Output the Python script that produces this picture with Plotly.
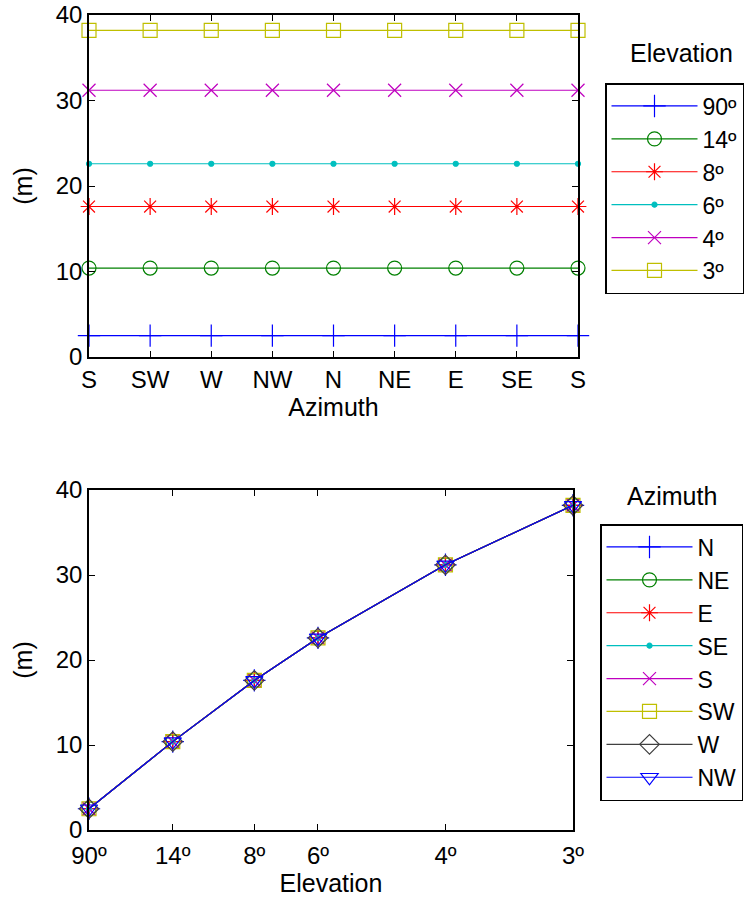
import math
import plotly.graph_objects as go

# Azimuth sweep (top panel) and elevation angles (bottom panel)
azimuth_labels = ["S", "SW", "W", "NW", "N", "NE", "E", "SE", "S"]
elevation_deg = [90, 14, 8, 6, 4, 3]
elevation_labels = ["90º", "14º", "8º", "6º", "4º", "3º"]
# Range (m) for each elevation angle, identical at every azimuth
range_m = [2.5, 10.4, 17.6, 22.6, 31.2, 38.2]
legend_azimuths = ["N", "NE", "E", "SE", "S", "SW", "W", "NW"]

# MATLAB-style line colours and markers
elev_colors = ["#0000ff", "#008000", "#ff0000", "#00bfbf", "#bf00bf", "#bfbf00"]
elev_symbols = ["cross-thin-open", "circle-open", "asterisk-open", "circle",
                "x-thin-open", "square-open"]
elev_sizes = [16, 14, 14, 5, 13, 14]
az_colors = ["#0000ff", "#008000", "#ff0000", "#00bfbf", "#bf00bf", "#bfbf00",
             "#404040", "#0000ff"]
az_symbols = ["cross-thin-open", "circle-open", "asterisk-open", "circle",
              "x-thin-open", "square-open", "diamond-open", "triangle-down-open"]
az_sizes = [16, 14, 14, 5, 13, 14, 15, 15]

FONT = "Liberation Sans, Arial, sans-serif"
FS = 24

fig = go.Figure()

x_top = list(range(len(azimuth_labels)))
for i, lab in enumerate(elevation_labels):
    fig.add_trace(go.Scatter(
        x=x_top, y=[range_m[i]] * len(x_top), name=lab, mode="lines+markers",
        line=dict(color=elev_colors[i], width=1.2),
        marker=dict(symbol=elev_symbols[i], size=elev_sizes[i], color=elev_colors[i],
                    line=dict(color=elev_colors[i], width=1.2)),
        cliponaxis=False, xaxis="x", yaxis="y", legend="legend",
    ))

# Elevation axis spaced by 1/sin(elevation)
x_bot = [1.0 / math.sin(math.radians(e)) for e in elevation_deg]
for j, lab in enumerate(legend_azimuths):
    fig.add_trace(go.Scatter(
        x=x_bot, y=range_m, name=lab, mode="lines+markers",
        line=dict(color=az_colors[j], width=1.2),
        marker=dict(symbol=az_symbols[j], size=az_sizes[j], color=az_colors[j],
                    line=dict(color=az_colors[j], width=1.2)),
        cliponaxis=False, xaxis="x2", yaxis="y2", legend="legend2",
    ))

axis_common = dict(showline=True, linecolor="black", linewidth=1.5, mirror="ticks",
                   ticks="inside", ticklen=6, tickwidth=1, tickcolor="black",
                   showgrid=False, zeroline=False,
                   tickfont=dict(family=FONT, size=FS, color="black"))

legend_common = dict(bgcolor="white", bordercolor="black", borderwidth=1.5,
                     font=dict(family=FONT, size=23, color="black"),
                     itemwidth=86, xanchor="left", yanchor="top")

title_font = dict(family=FONT, size=25, color="black")

fig.update_layout(
    width=749, height=900, margin=dict(l=0, r=0, t=0, b=0, autoexpand=False),
    paper_bgcolor="white", plot_bgcolor="white",
    font=dict(family=FONT, size=FS, color="black"),
    xaxis=dict(domain=[89 / 749, 578 / 749], range=[0, 8],
               tickvals=x_top, ticktext=azimuth_labels, anchor="y",
               title=dict(text="Azimuth", font=title_font, standoff=4),
               **axis_common),
    yaxis=dict(domain=[1 - 357 / 900, 1 - 15 / 900], range=[0, 40],
               tickvals=[0, 10, 20, 30, 40], anchor="x",
               title=dict(text="(m)", font=title_font, standoff=16),
               **axis_common),
    xaxis2=dict(domain=[89 / 749, 573 / 749], range=[x_bot[0], x_bot[-1]],
                tickvals=x_bot, ticktext=elevation_labels, anchor="y2",
                ticklabelstandoff=3,
                title=dict(text="Elevation", font=title_font, standoff=4),
                **axis_common),
    yaxis2=dict(domain=[1 - 830 / 900, 1 - 490 / 900], range=[0, 40],
                tickvals=[0, 10, 20, 30, 40], anchor="x2",
                title=dict(text="(m)", font=title_font, standoff=16),
                **axis_common),
    legend=dict(x=605 / 749, y=1 - 83 / 900, **legend_common),
    legend2=dict(x=600 / 749, y=1 - 524 / 900, **legend_common),
    showlegend=True,
    annotations=[
        dict(text="Elevation", x=681 / 749, y=1 - 53 / 900, xref="paper", yref="paper",
             xanchor="center", yanchor="middle", showarrow=False, font=title_font),
        dict(text="Azimuth", x=672 / 749, y=1 - 496 / 900, xref="paper", yref="paper",
             xanchor="center", yanchor="middle", showarrow=False, font=title_font),
    ],
)

fig.write_html("out.html")
